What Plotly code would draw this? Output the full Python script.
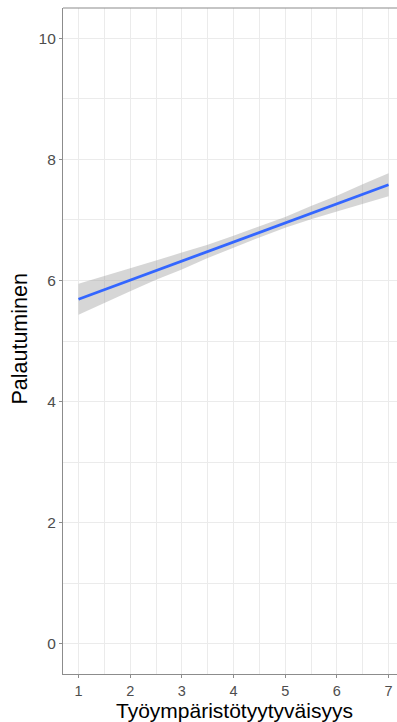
import plotly.graph_objects as go

# Fitted line (linear model) and its 95% confidence band
fit_x = [1, 7]
fit_y = [5.69, 7.58]

band_x = [1, 1.5, 2, 2.5, 3, 3.5, 4, 4.5, 5, 5.5, 6, 6.5, 7]
band_upper = [5.945, 6.07, 6.20, 6.33, 6.46, 6.59, 6.74, 6.89, 7.05, 7.23, 7.40, 7.59, 7.77]
band_lower = [5.435, 5.63, 5.82, 6.01, 6.18, 6.37, 6.54, 6.71, 6.87, 7.01, 7.14, 7.27, 7.39]

x_ticks = [1, 2, 3, 4, 5, 6, 7]
y_ticks = [0, 2, 4, 6, 8, 10]

x_title = "Työympäristötyytyväisyys"
y_title = "Palautuminen"

AXIS_COL = "#8c8c8c"
GRID_COL = "#ebebeb"
FONT = "Liberation Sans, Arial, sans-serif"

fig = go.Figure()

fig.add_trace(go.Scatter(
    x=band_x + band_x[::-1],
    y=band_upper + band_lower[::-1],
    fill="toself",
    fillcolor="rgba(153,153,153,0.4)",
    line=dict(width=0),
    mode="lines",
    hoverinfo="skip",
    showlegend=False,
))

fig.add_trace(go.Scatter(
    x=fit_x, y=fit_y,
    mode="lines",
    line=dict(color="#3366FF", width=2.8),
    showlegend=False,
))

fig.update_layout(
    width=397, height=722,
    margin=dict(l=63, r=0, t=8, b=48),
    plot_bgcolor="white",
    paper_bgcolor="white",
    font=dict(family=FONT),
    shapes=[dict(type="line", xref="paper", yref="paper",
                 x0=0, x1=1, y0=1, y1=1,
                 line=dict(color=AXIS_COL, width=1.2))],
    annotations=[
        dict(text=x_title, xref="paper", yref="paper", x=0.512, y=-0.0545,
             xanchor="center", yanchor="middle", showarrow=False,
             font=dict(size=21, color="black")),
        dict(text=y_title, xref="paper", yref="paper", x=-0.13, y=0.503,
             xanchor="center", yanchor="middle", showarrow=False, textangle=-90,
             font=dict(size=21.5, color="black")),
    ],
)

fig.update_xaxes(
    range=[0.7, 7.164],
    tickmode="array", tickvals=x_ticks, ticktext=[str(v) for v in x_ticks],
    ticks="outside", ticklen=3, tickwidth=1.1, tickcolor=AXIS_COL,
    tickfont=dict(size=14.5, color="#4d4d4d"),
    showline=True, linecolor=AXIS_COL, linewidth=1.2,
    showgrid=True, gridcolor=GRID_COL, gridwidth=1.1,
    minor=dict(dtick=0.5, tick0=0.5, showgrid=True, gridcolor=GRID_COL, gridwidth=0.6),
    zeroline=False,
)

fig.update_yaxes(
    range=[-0.5, 10.5],
    tickmode="array", tickvals=y_ticks, ticktext=[str(v) for v in y_ticks],
    ticks="outside", ticklen=3, tickwidth=1.1, tickcolor=AXIS_COL,
    tickfont=dict(size=15.5, color="#4d4d4d"),
    showline=True, linecolor=AXIS_COL, linewidth=1.2,
    showgrid=True, gridcolor=GRID_COL, gridwidth=1.1,
    minor=dict(dtick=1, tick0=1, showgrid=True, gridcolor=GRID_COL, gridwidth=0.6),
    zeroline=False,
)

fig.write_html("out.html")
